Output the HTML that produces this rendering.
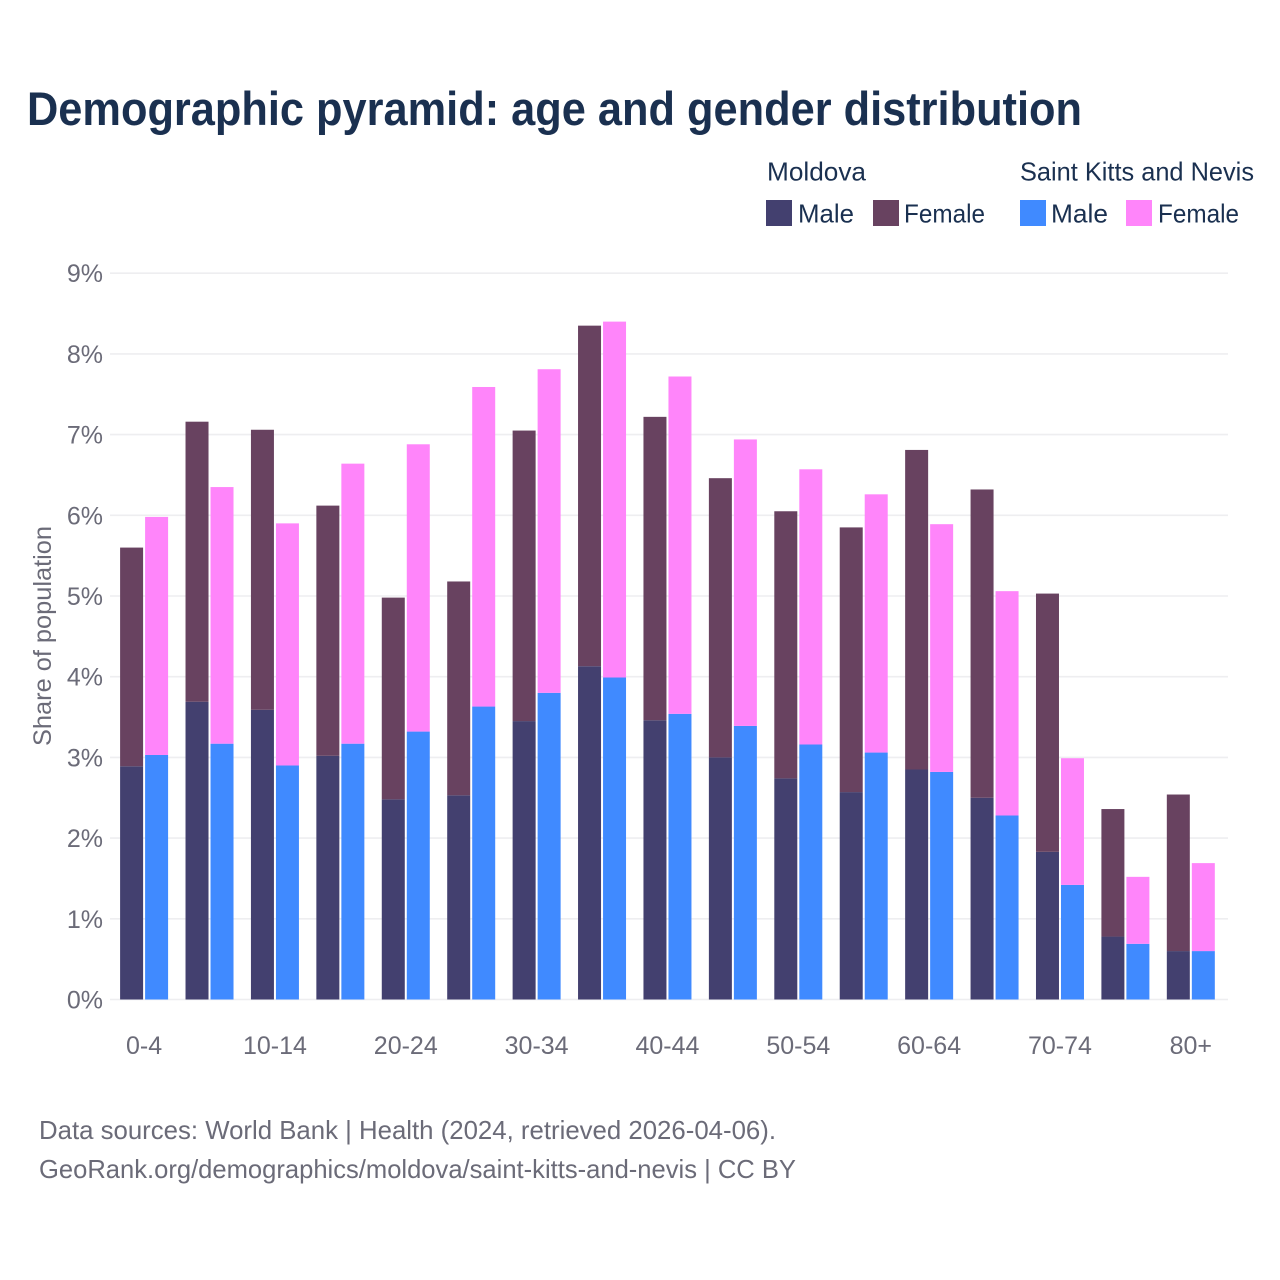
<!DOCTYPE html>
<html lang="en">
<head>
<meta charset="utf-8">
<title>Demographic pyramid: age and gender distribution</title>
<style>
html,body{margin:0;padding:0;background:#fff;width:1280px;height:1280px;overflow:hidden}
svg{display:block;font-family:"Liberation Sans",sans-serif}
</style>
</head>
<body>
<svg id="chart" xmlns="http://www.w3.org/2000/svg" width="1280" height="1280" viewBox="0 0 1280 1280">
  <rect x="0" y="0" width="1280" height="1280" fill="#ffffff"/>
  <text x="27" y="125" font-size="47" font-weight="700" fill="#1a3050" textLength="1055" lengthAdjust="spacingAndGlyphs">Demographic pyramid: age and gender distribution</text>

  <g font-size="26" fill="#1a3050">
    <text x="767" y="180.500" textLength="99" lengthAdjust="spacingAndGlyphs">Moldova</text>
    <text x="1020" y="180.500" textLength="234" lengthAdjust="spacingAndGlyphs">Saint Kitts and Nevis</text>
    <rect x="766" y="200" width="26" height="26" fill="#43406f"/>
    <text x="798" y="222.500" textLength="56" lengthAdjust="spacingAndGlyphs">Male</text>
    <rect x="873" y="200" width="26" height="26" fill="#684260"/>
    <text x="904" y="222.500" textLength="81" lengthAdjust="spacingAndGlyphs">Female</text>
    <rect x="1020" y="200" width="26" height="26" fill="#408aff"/>
    <text x="1051" y="222.500" textLength="57" lengthAdjust="spacingAndGlyphs">Male</text>
    <rect x="1126" y="200" width="26" height="26" fill="#ff85fa"/>
    <text x="1158" y="222.500" textLength="81" lengthAdjust="spacingAndGlyphs">Female</text>
  </g>

  <g id="grid"></g>
  <g id="bars"></g>
  <g id="yticks" font-size="25" fill="#6b6b78" text-anchor="end"></g>
  <g id="xticks" font-size="25" fill="#6b6b78" text-anchor="middle"></g>

  <text transform="translate(51,636) rotate(-90)" font-size="25" fill="#6b6b78" text-anchor="middle" textLength="220" lengthAdjust="spacingAndGlyphs">Share of population</text>

  <text x="39" y="1139" font-size="26" fill="#6b6b78" textLength="737" lengthAdjust="spacingAndGlyphs">Data sources: World Bank | Health (2024, retrieved 2026-04-06).</text>
  <text x="39" y="1178" font-size="26" fill="#6b6b78" textLength="757" lengthAdjust="spacingAndGlyphs">GeoRank.org/demographics/moldova/saint-kitts-and-nevis | CC BY</text>
</svg>
<script>
const categories = ["0-4","5-9","10-14","15-19","20-24","25-29","30-34","35-39","40-44","45-49","50-54","55-59","60-64","65-69","70-74","75-79","80+"];
const moldovaMale = [2.89,3.69,3.59,3.02,2.48,2.53,3.45,4.13,3.46,3.00,2.74,2.57,2.85,2.50,1.83,0.78,0.60];
const moldovaFemale = [2.71,3.47,3.47,3.10,2.50,2.65,3.60,4.22,3.76,3.46,3.31,3.28,3.96,3.82,3.20,1.58,1.94];
const sknMale = [3.03,3.17,2.90,3.17,3.32,3.63,3.80,3.99,3.54,3.39,3.16,3.06,2.82,2.28,1.42,0.69,0.60];
const sknFemale = [2.95,3.18,3.00,3.47,3.56,3.96,4.01,4.41,4.18,3.55,3.41,3.20,3.07,2.78,1.57,0.83,1.09];
const yTickValues = [0,1,2,3,4,5,6,7,8,9];
const yTickLabels = ["0%","1%","2%","3%","4%","5%","6%","7%","8%","9%"];

const NS = "http://www.w3.org/2000/svg";
function xCenter(i){ return 144.1 + i * 65.42; }
function yScale(v){ return 999.5 - v * 80.7; }

const gridLayer = document.getElementById("grid");
const barLayer = document.getElementById("bars");
const yTickLayer = document.getElementById("yticks");
const xTickLayer = document.getElementById("xticks");

function addBar(i, offset, base, value, fill, name){
  const r = document.createElementNS(NS, "rect");
  const top = yScale(base + value);
  r.setAttribute("x", (xCenter(i) + offset).toFixed(2));
  r.setAttribute("y", top.toFixed(2));
  r.setAttribute("width", 23);
  r.setAttribute("height", (yScale(base) - top).toFixed(2));
  r.setAttribute("fill", fill);
  
  
  barLayer.appendChild(r);
}

yTickValues.forEach(function(v, k){
  const line = document.createElementNS(NS, "line");
  line.setAttribute("x1", 110);
  line.setAttribute("x2", 1228);
  line.setAttribute("y1", yScale(v));
  line.setAttribute("y2", yScale(v));
  line.setAttribute("stroke", "#eeeef0");
  line.setAttribute("stroke-width", 1.6);
  
  
  gridLayer.appendChild(line);

  const t = document.createElementNS(NS, "text");
  t.setAttribute("x", 103);
  t.setAttribute("y", yScale(v) + 9);
  t.textContent = yTickLabels[k];
  
  
  yTickLayer.appendChild(t);
});

categories.forEach(function(c, i){
  addBar(i, -24, 0, moldovaMale[i], "#43406f", "bar-moldova-male");
  addBar(i, -24, moldovaMale[i], moldovaFemale[i], "#684260", "bar-moldova-female");
  addBar(i, 1, 0, sknMale[i], "#408aff", "bar-skn-male");
  addBar(i, 1, sknMale[i], sknFemale[i], "#ff85fa", "bar-skn-female");
  if (i % 2 === 0) {
    const t = document.createElementNS(NS, "text");
    t.setAttribute("x", xCenter(i));
    t.setAttribute("y", 1054);
    t.textContent = c;
    
    
    xTickLayer.appendChild(t);
  }
});
</script>
</body>
</html>
